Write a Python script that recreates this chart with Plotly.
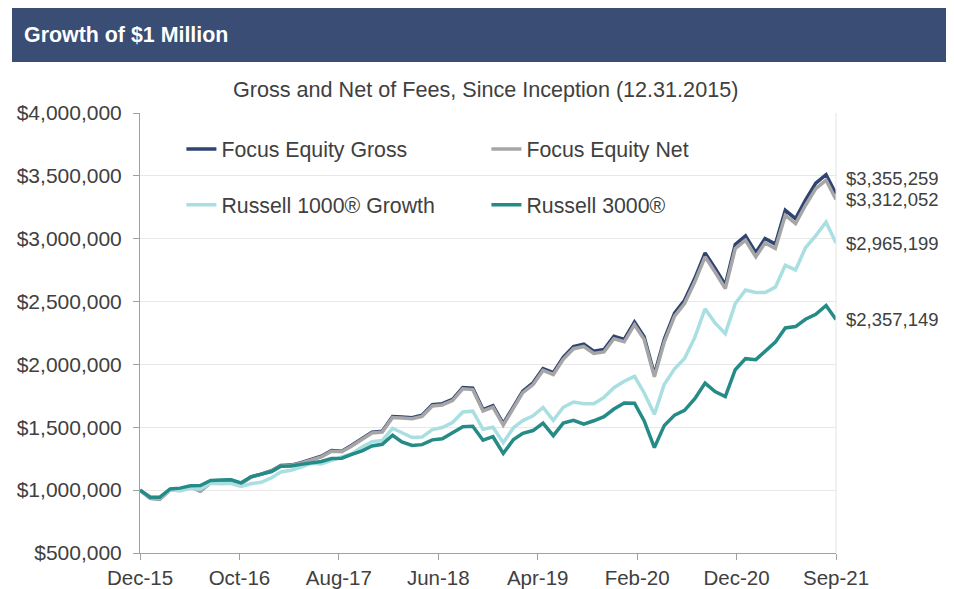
import pandas as pd
import plotly.graph_objects as go

# Month-end dates, Dec-15 .. Sep-21
dates = pd.date_range("2016-01-01", periods=70, freq="MS") - pd.Timedelta(days=1)

focus_gross = [
    1000000, 935200, 930400, 1003600, 1008800, 1029000, 993100, 1061400, 1073600, 1079800,
    1052000, 1106300, 1127600, 1154800, 1196200, 1199400, 1217700, 1244000, 1269300, 1314700,
    1309900, 1357400, 1405800, 1460300, 1468600, 1585500, 1581700, 1576000, 1595400, 1679200,
    1687500, 1722000, 1816900, 1811200, 1640500, 1671000, 1528300, 1666600, 1787700, 1853600,
    1966800, 1934900, 2056200, 2142300, 2160800, 2105800, 2118300, 2223600, 2199800, 2337400,
    2220800, 1920300, 2201400, 2407900, 2510400, 2684600, 2886200, 2764500, 2632500, 2954600,
    3021900, 2888900, 3001800, 2956800, 3225600, 3159300, 3306700, 3442000, 3509500, 3355259,
]
focus_net = [
    1000000, 935000, 930000, 1003000, 1008000, 1028000, 992000, 1060000, 1072000, 1078000,
    1050000, 1104000, 1125000, 1152000, 1193000, 1196000, 1214000, 1240000, 1265000, 1310000,
    1305000, 1352000, 1400000, 1454000, 1462000, 1578000, 1574000, 1568000, 1587000, 1670000,
    1678000, 1712000, 1806000, 1800000, 1630000, 1660000, 1518000, 1655000, 1775000, 1840000,
    1952000, 1920000, 2040000, 2125000, 2143000, 2088000, 2100000, 2204000, 2180000, 2316000,
    2200000, 1902000, 2180000, 2384000, 2485000, 2657000, 2856000, 2735000, 2604000, 2922000,
    2988000, 2856000, 2967000, 2922000, 3187000, 3121000, 3266000, 3399000, 3465000, 3312052,
]
russell_1000g = [
    1000000, 944000, 940000, 1003000, 994000, 1014000, 1010000, 1055000, 1050000, 1054000,
    1029000, 1051000, 1062000, 1098000, 1144000, 1158000, 1184000, 1213000, 1209000, 1239000,
    1264000, 1290000, 1343000, 1385000, 1396000, 1492000, 1454000, 1418000, 1422000, 1482000,
    1498000, 1538000, 1622000, 1628000, 1484000, 1500000, 1378000, 1497000, 1553000, 1592000,
    1658000, 1555000, 1659000, 1700000, 1688000, 1688000, 1738000, 1815000, 1866000, 1905000,
    1775000, 1603000, 1842000, 1965000, 2047000, 2215000, 2443000, 2330000, 2245000, 2484000,
    2592000, 2572000, 2572000, 2615000, 2788000, 2752000, 2928000, 3025000, 3133000, 2965199,
]
russell_3000 = [
    1000000, 944000, 944000, 1010000, 1016000, 1034000, 1036000, 1077000, 1080000, 1082000,
    1058000, 1106000, 1127000, 1148000, 1191000, 1192000, 1205000, 1217000, 1228000, 1251000,
    1254000, 1284000, 1312000, 1351000, 1365000, 1437000, 1384000, 1356000, 1362000, 1400000,
    1409000, 1456000, 1505000, 1508000, 1397000, 1425000, 1292000, 1403000, 1452000, 1474000,
    1533000, 1433000, 1533000, 1556000, 1525000, 1552000, 1585000, 1645000, 1693000, 1691000,
    1552000, 1338000, 1515000, 1597000, 1634000, 1727000, 1851000, 1784000, 1745000, 1958000,
    2046000, 2038000, 2101000, 2177000, 2290000, 2301000, 2359000, 2399000, 2469000, 2357149,
]

series = [
    ("Focus Equity Gross", focus_gross, "#2f4470", "legend"),
    ("Focus Equity Net", focus_net, "#a6a6a6", "legend"),
    ("Russell 1000® Growth", russell_1000g, "#aadfe2", "legend2"),
    ("Russell 3000®", russell_3000, "#258b87", "legend2"),
]
label_shift = [16, 0, 0, 0]

FONT = "Liberation Sans, Arial, sans-serif"
TXT = "#404040"

fig = go.Figure()
for name, vals, color, leg in series:
    fig.add_trace(go.Scatter(
        x=dates, y=vals, mode="lines", name=name,
        line=dict(color=color, width=3.5),
        legend=leg,
        hovertemplate="%{x|%b-%y}: %{y:,.0f}<extra>" + name + "</extra>",
    ))

tick_dates = pd.date_range("2015-12-31", periods=8, freq="300D")

# page body adds an 8px offset, so the figure is 8px smaller than the window
fig.update_layout(
    width=946, height=581,
    margin=dict(l=132, r=118, t=105, b=36),
    paper_bgcolor="white", plot_bgcolor="white",
    font=dict(family=FONT, size=20, color=TXT),
    legend=dict(
        orientation="h", x=0.0595, y=0.918, xanchor="left", yanchor="middle",
        entrywidth=260, entrywidthmode="pixels",
        font=dict(size=21.3, color=TXT), bgcolor="rgba(0,0,0,0)",
    ),
    legend2=dict(
        orientation="h", x=0.0595, y=0.791, xanchor="left", yanchor="middle",
        entrywidth=260, entrywidthmode="pixels",
        font=dict(size=21.3, color=TXT), bgcolor="rgba(0,0,0,0)",
    ),
    xaxis=dict(
        type="date", range=[dates[0], dates[-1]], automargin=False,
        tickvals=tick_dates, ticktext=[d.strftime("%b-%y") for d in tick_dates],
        showgrid=False, showline=True, linecolor="#a0a0a0", linewidth=1,
        ticks="outside", ticklen=6, tickcolor="#a0a0a0",
        tickfont=dict(size=20.5, color=TXT),
    ),
    yaxis=dict(
        range=[500000, 4000000], dtick=500000, tickprefix="$", tickformat=",.0f",
        automargin=False, ticklabelstandoff=7,
        showgrid=True, gridcolor="#e8e8e8", gridwidth=1,
        showline=True, linecolor="#a0a0a0", linewidth=1,
        ticks="outside", ticklen=6, tickcolor="#a0a0a0",
        tickfont=dict(size=21, color=TXT), zeroline=False,
    ),
    shapes=[
        dict(type="rect", xref="paper", yref="paper",
             x0=-0.1839, x1=1.1609, y0=1.1159, y1=1.2386,
             fillcolor="#394d75", line=dict(width=0), layer="below"),
        dict(type="line", xref="paper", yref="paper",
             x0=1, x1=1, y0=0, y1=1, line=dict(color="#e4e4e4", width=1)),
    ],
)

fig.add_annotation(
    text="Growth of &#36;1 Million", xref="paper", yref="paper",
    x=-0.1695, y=1.177, xanchor="left", yanchor="middle", showarrow=False,
    font=dict(size=21.4, color="white", family=FONT, weight="bold"),
)
fig.add_annotation(
    text="Gross and Net of Fees, Since Inception (12.31.2015)",
    xref="paper", yref="paper", x=0.497, y=1.0545,
    xanchor="center", yanchor="middle", showarrow=False,
    font=dict(size=21.6, color=TXT, family=FONT),
)

# end-of-period value labels
for (name, vals, color, leg), dy in zip(series, label_shift):
    fig.add_annotation(
        x=dates[-1], y=vals[-1], text=f"&#36;{vals[-1]:,.0f}",
        xanchor="left", yanchor="middle", xshift=8, yshift=dy,
        showarrow=False, font=dict(size=18.5, color=TXT, family=FONT),
    )

fig.write_html("out.html")
